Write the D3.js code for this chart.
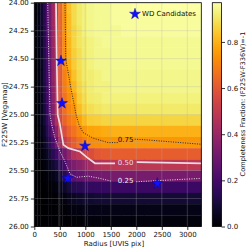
<!DOCTYPE html>
<html>
<head>
<meta charset="utf-8"/>
<script src="https://cdnjs.cloudflare.com/ajax/libs/d3/7.8.5/d3.min.js"></script>
<style>
  body { margin: 0; background: #fff; }
  text { font-family: "DejaVu Sans", sans-serif; }
</style>
</head>
<body>
<script>
// radius bin edges [UVIS pix] and magnitude bin edges
const rEdges = [0, 60, 115, 170, 225, 280, 340, 400, 470, 550, 635, 730, 830, 930, 1040, 1170, 1320, 1500, 1700, 1910, 2150, 3274];
const magEdges = [24.0, 24.1, 24.2, 24.3, 24.4, 24.5, 24.6, 24.7, 24.8, 24.9, 25.0,
                  25.1, 25.2, 25.3, 25.4, 25.5, 25.6, 25.7, 25.8, 25.9, 26.0];

// completeness per cell, one row per magnitude bin (bright -> faint)
const completeness = [
  [.02,.04,.08,.14,.23,.31,.41,.52,.64,.74,.83,.88,.91,.93,.94,.95,.95,.96,.96,.97,.97],
  [.02,.04,.08,.14,.23,.31,.41,.52,.63,.74,.82,.88,.91,.93,.94,.95,.95,.96,.96,.96,.96],
  [.02,.04,.07,.13,.22,.30,.40,.51,.63,.74,.82,.87,.90,.93,.94,.95,.95,.95,.96,.96,.96],
  [.02,.03,.07,.13,.22,.30,.40,.51,.62,.73,.81,.87,.90,.92,.93,.94,.95,.95,.95,.95,.95],
  [.02,.03,.07,.13,.21,.29,.39,.50,.62,.73,.80,.86,.89,.92,.93,.94,.94,.95,.95,.95,.95],
  [.01,.03,.06,.12,.20,.28,.38,.49,.61,.72,.79,.85,.89,.91,.93,.94,.94,.95,.95,.95,.95],
  [.01,.03,.06,.12,.20,.28,.38,.49,.60,.70,.76,.83,.88,.91,.92,.93,.94,.94,.94,.94,.94],
  [.01,.03,.06,.11,.19,.27,.37,.48,.59,.69,.74,.81,.87,.90,.92,.93,.93,.94,.94,.94,.94],
  [.01,.03,.05,.11,.19,.26,.36,.48,.58,.67,.72,.77,.85,.89,.91,.92,.93,.93,.93,.93,.93],
  [.01,.02,.05,.10,.18,.26,.35,.47,.57,.66,.71,.74,.82,.87,.89,.90,.91,.91,.91,.91,.91],
  [.01,.02,.05,.09,.16,.24,.33,.45,.55,.63,.68,.71,.77,.82,.85,.86,.87,.87,.87,.87,.87],
  [.01,.02,.04,.07,.13,.20,.26,.37,.48,.57,.63,.67,.71,.75,.77,.78,.79,.80,.80,.80,.80],
  [.01,.01,.03,.06,.10,.15,.21,.30,.42,.51,.57,.62,.66,.69,.72,.73,.74,.74,.745,.75,.745],
  [.00,.01,.02,.04,.06,.10,.14,.19,.24,.31,.38,.46,.49,.53,.57,.60,.61,.62,.62,.62,.62],
  [.00,.00,.01,.02,.04,.06,.08,.11,.15,.20,.30,.33,.36,.39,.43,.46,.48,.49,.49,.49,.49],
  [.00,.00,.00,.01,.02,.03,.04,.06,.09,.13,.22,.25,.27,.28,.30,.31,.31,.32,.32,.32,.32],
  [.00,.00,.00,.00,.01,.01,.02,.03,.05,.07,.10,.13,.14,.15,.16,.17,.17,.18,.18,.18,.18],
  [.00,.00,.00,.00,.00,.01,.01,.01,.02,.03,.05,.06,.07,.08,.08,.09,.09,.09,.09,.09,.09],
  [.00,.00,.00,.00,.00,.00,.00,.01,.01,.01,.02,.03,.03,.04,.04,.04,.04,.04,.04,.04,.04],
  [.00,.00,.00,.00,.00,.00,.00,.00,.00,.01,.01,.01,.01,.02,.02,.02,.02,.02,.02,.02,.02]
];

// contour lines [radius, mag]; null = gap left for the inline label
const contour75 = [[602,24.0],[610,24.25],[616,24.5],[700,24.72],[818,25.0],[876,25.09],[955,25.16],
                   [1150,25.21],[1445,25.25],[1641,25.25],null,[1969,25.22],[2170,25.225],[3274,25.265]];
const contour50 = [[426,24.0],[440,24.5],[458,25.0],[504,25.09],[569,25.27],[667,25.30],[896,25.33],
                   [1027,25.38],[1190,25.435],[1582,25.435],null,[2008,25.425],[3274,25.435]];
const contour25 = [[262,24.0],[285,24.5],[308,25.0],[341,25.09],[406,25.21],[504,25.33],[602,25.42],
                   [700,25.53],[831,25.56],[1059,25.55],[1288,25.57],[1510,25.595],null,[2000,25.6],[3274,25.57]];
const contourLevels = ["0.25", "0.50", "0.75"];
const contourLabelPos = [[1790, 25.59], [1790, 25.425], [1790, 25.22]];

// white dwarf candidates
const wdRadius = [523, 543, 994, 655, 2412];
const wdMag = [24.52, 24.90, 25.28, 25.57, 25.615];

const xTicks = [0, 500, 1000, 1500, 2000, 2500, 3000];
const yTicks = [24.0, 24.25, 24.5, 24.75, 25.0, 25.25, 25.5, 25.75, 26.0];
const cbTicks = [0.0, 0.2, 0.4, 0.6, 0.8];

const width = 249, height = 249;
const plot = {left: 34.3, right: 201.3, top: 2.7, bottom: 226.5};
const cbar = {left: 212.3, right: 221.5};

const svg = d3.select("body").append("svg")
  .attr("width", width).attr("height", height);

const x = d3.scaleLinear().domain([0, 3274]).range([plot.left, plot.right]);
const y = d3.scaleLinear().domain([24, 26]).range([plot.top, plot.bottom]);
const vmax = d3.max(completeness, r => d3.max(r));
const color = d3.scaleSequential(d3.interpolateInferno).domain([0, vmax]);

// heatmap cells
const cells = [];
completeness.forEach((row, j) => row.forEach((v, i) => cells.push({i, j, v})));
svg.append("g").selectAll("rect").data(cells).join("rect")
  .attr("x", d => x(rEdges[d.i]))
  .attr("y", d => y(magEdges[d.j]))
  .attr("width", d => x(rEdges[d.i + 1]) - x(rEdges[d.i]) + 0.3)
  .attr("height", d => y(magEdges[d.j + 1]) - y(magEdges[d.j]) + 0.3)
  .attr("fill", d => color(d.v));

// grid
const grid = svg.append("g").attr("stroke", "#b0b0b0").attr("stroke-opacity", 0.35).attr("stroke-width", 0.8);
grid.selectAll(".gx").data(xTicks).join("line")
  .attr("x1", d => x(d)).attr("x2", d => x(d)).attr("y1", plot.top).attr("y2", plot.bottom);
grid.selectAll(".gy").data(yTicks).join("line")
  .attr("y1", d => y(d)).attr("y2", d => y(d)).attr("x1", plot.left).attr("x2", plot.right);

// contours
const line = d3.line().defined(d => d !== null).x(d => x(d[0])).y(d => y(d[1]));
svg.append("path").datum(contour75).attr("d", line)
  .attr("fill", "none").attr("stroke", "#1a1a1a").attr("stroke-width", 0.9).attr("stroke-dasharray", "1,1.4");
svg.append("path").datum(contour50).attr("d", line)
  .attr("fill", "none").attr("stroke", "#ecdde2").attr("stroke-width", 1.7);
svg.append("path").datum(contour25).attr("d", line)
  .attr("fill", "none").attr("stroke", "#f4eef4").attr("stroke-width", 0.9).attr("stroke-dasharray", "1,1.4");

const labelColors = ["#f4f0f4", "#ecdde2", "#111"];
svg.append("g").selectAll("text").data(contourLevels).join("text")
  .attr("x", (d, i) => x(contourLabelPos[i][0]))
  .attr("y", (d, i) => y(contourLabelPos[i][1]))
  .attr("dy", "0.35em")
  .attr("text-anchor", "middle")
  .attr("font-size", 7)
  .attr("fill", (d, i) => labelColors[i])
  .text(d => d);

// WD candidates
const star = d3.symbol().type(d3.symbolStar).size(38);
svg.append("g").selectAll("path").data(wdRadius).join("path")
  .attr("transform", (d, i) => `translate(${x(d)},${y(wdMag[i])})`)
  .attr("d", star)
  .attr("fill", "#1010ff").attr("stroke", "#0000a0").attr("stroke-width", 0.4);

// legend
svg.append("path").attr("transform", "translate(135,14)").attr("d", star)
  .attr("fill", "#1010ff").attr("stroke", "#0000a0").attr("stroke-width", 0.4);
svg.append("text").attr("x", 142).attr("y", 14).attr("dy", "0.35em")
  .attr("font-size", 7).attr("fill", "#111").text("WD Candidates");

// axes frame
svg.append("rect").attr("x", plot.left).attr("y", plot.top)
  .attr("width", plot.right - plot.left).attr("height", plot.bottom - plot.top)
  .attr("fill", "none").attr("stroke", "#000").attr("stroke-width", 0.8);

const xAxis = svg.append("g").attr("transform", `translate(0,${plot.bottom})`)
  .call(d3.axisBottom(x).tickValues(xTicks).tickSize(3.5).tickPadding(2).tickFormat(d3.format("d")));
const yAxis = svg.append("g").attr("transform", `translate(${plot.left},0)`)
  .call(d3.axisLeft(y).tickValues(yTicks).tickSize(3.5).tickPadding(2).tickFormat(d3.format(".2f")));
[xAxis, yAxis].forEach(g => {
  g.select(".domain").remove();
  g.selectAll("line").attr("stroke-width", 0.8);
  g.selectAll("text").attr("font-size", 7).attr("font-family", "DejaVu Sans").attr("fill", "#111");
});

svg.append("text").attr("x", 114).attr("y", 246)
  .attr("text-anchor", "middle").attr("font-size", 7).attr("fill", "#111")
  .text("Radius [UVIS pix]");
svg.append("text").attr("transform", `translate(5,${(plot.top + plot.bottom) / 2}) rotate(-90)`)
  .attr("text-anchor", "middle").attr("dy", "0.35em").attr("font-size", 7).attr("fill", "#111")
  .text("F225W [Vegamag]");

// colorbar
const cy = d3.scaleLinear().domain([0, vmax]).range([plot.bottom, plot.top]);
const grad = svg.append("defs").append("linearGradient").attr("id", "cb")
  .attr("x1", 0).attr("x2", 0).attr("y1", 1).attr("y2", 0);
grad.selectAll("stop").data(d3.range(0, 1.0001, 0.05)).join("stop")
  .attr("offset", d => d).attr("stop-color", d => d3.interpolateInferno(d));
svg.append("rect").attr("x", cbar.left).attr("y", plot.top)
  .attr("width", cbar.right - cbar.left).attr("height", plot.bottom - plot.top)
  .attr("fill", "url(#cb)").attr("stroke", "#000").attr("stroke-width", 0.8);
const cAxis = svg.append("g").attr("transform", `translate(${cbar.right},0)`)
  .call(d3.axisRight(cy).tickValues(cbTicks).tickSize(3.5).tickPadding(2).tickFormat(d3.format(".1f")));
cAxis.select(".domain").remove();
cAxis.selectAll("line").attr("stroke-width", 0.8);
cAxis.selectAll("text").attr("font-size", 7).attr("font-family", "DejaVu Sans").attr("fill", "#111");
svg.append("text").attr("transform", `translate(243,104) rotate(-90)`)
  .attr("text-anchor", "middle").attr("dy", "0.35em").attr("font-size", 6.6).attr("fill", "#111")
  .text("Completeness Fraction: (F225W-F336W)=-1");
</script>
</body>
</html>
